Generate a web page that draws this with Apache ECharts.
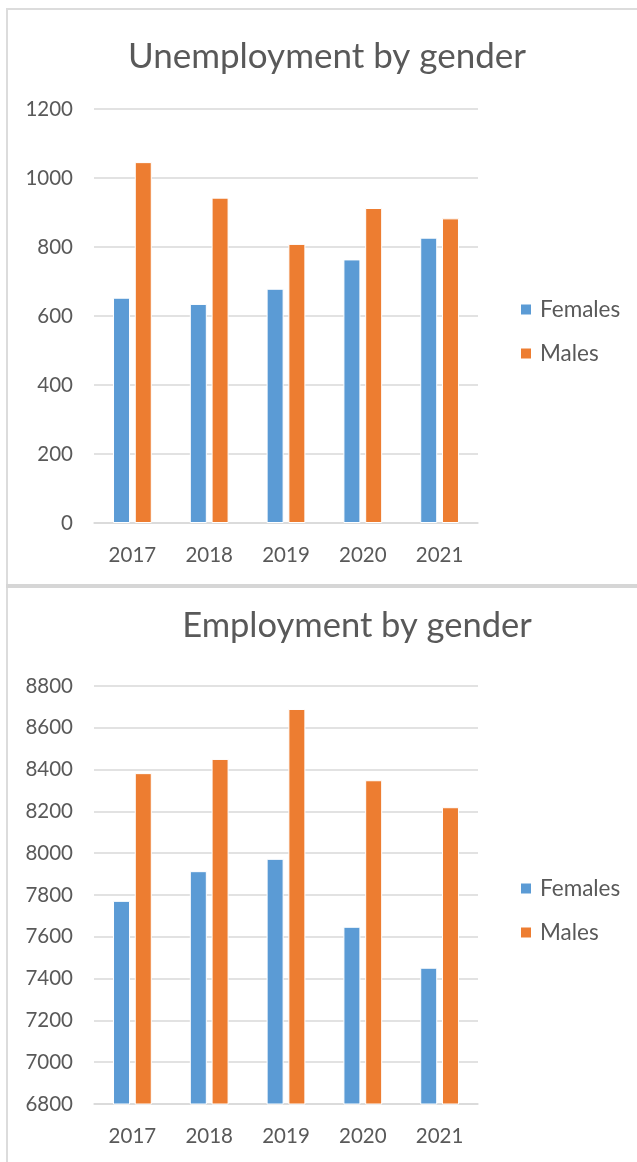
<!DOCTYPE html>
<html>
<head>
<meta charset="utf-8">
<script src="https://cdn.jsdelivr.net/npm/echarts@6/dist/echarts.min.js"></script>
<style>
html,body{margin:0;padding:0;background:#fff;}
#chart{width:637px;height:1162px;}
</style>
</head>
<body>
<div id="chart"></div>
<script>
const years = ['2017', '2018', '2019', '2020', '2021'];
const unempFemales = [653, 635, 679, 764, 827];
const unempMales = [1046, 943, 809, 913, 883];
const empFemales = [7772, 7914, 7973, 7648, 7452];
const empMales = [8383, 8451, 8690, 8349, 8220];
const seriesNames = ['Females', 'Males'];
const titles = ['Unemployment by gender', 'Employment by gender'];

const FONT = 'Lato, "Open Sans", sans-serif';
const TXT = '#595959';
const GRID = '#d9d9d9';
const BLUE = '#5b9bd5';
const ORANGE = '#ed7d31';

const chart = echarts.init(document.getElementById('chart'), null, {renderer: 'canvas'});

function xAxis(gi) {
  return {
    type: 'category', gridIndex: gi, data: years,
    axisLine: {show: true, lineStyle: {color: GRID, width: 1.5}},
    axisTick: {show: false},
    axisLabel: {color: TXT, fontFamily: FONT, fontSize: 20.5, margin: 22}
  };
}
function yAxis(gi, min, max) {
  return {
    type: 'value', gridIndex: gi, min: min, max: max, interval: 200,
    axisLine: {show: false}, axisTick: {show: false},
    splitLine: {lineStyle: {color: GRID, width: 1.5}},
    axisLabel: {color: TXT, fontFamily: FONT, fontSize: 20.5, margin: 21,
                formatter: function (v) { return String(v); }}
  };
}
function bar(name, data, gi, color) {
  return {
    name: name, type: 'bar', xAxisIndex: gi, yAxisIndex: gi, data: data,
    barWidth: 17, barGap: '28%',
    itemStyle: {color: color, borderColor: '#ffffff', borderWidth: 1},
    emphasis: {disabled: true}
  };
}
function legend(top) {
  return {
    orient: 'vertical', left: 519, top: top, padding: 0, data: seriesNames,
    icon: 'rect', itemWidth: 12, itemHeight: 12, itemGap: 21,
    textStyle: {color: TXT, fontFamily: FONT, fontSize: 22.5, padding: [0, 0, 0, 3]}
  };
}

const option = {
  animation: false,
  backgroundColor: '#ffffff',
  title: [
    {text: titles[0], left: 322, top: 52, textAlign: 'center', textVerticalAlign: 'middle',
     textStyle: {color: TXT, fontFamily: FONT, fontSize: 35, fontWeight: 'normal'}},
    {text: titles[1], left: 352, top: 621, textAlign: 'center', textVerticalAlign: 'middle',
     textStyle: {color: TXT, fontFamily: FONT, fontSize: 34.5, fontWeight: 'normal'}}
  ],
  legend: [legend(298), legend(877)],
  grid: [
    {left: 94, top: 109, width: 384, height: 414, containLabel: false},
    {left: 94, top: 686, width: 384, height: 418, containLabel: false}
  ],
  xAxis: [xAxis(0), xAxis(1)],
  yAxis: [yAxis(0, 0, 1200), yAxis(1, 6800, 8800)],
  series: [
    bar(seriesNames[0], unempFemales, 0, BLUE),
    bar(seriesNames[1], unempMales, 0, ORANGE),
    bar(seriesNames[0], empFemales, 1, BLUE),
    bar(seriesNames[1], empMales, 1, ORANGE)
  ],
  graphic: [
    {type: 'rect', shape: {x: 6, y: 8, width: 631, height: 2}, style: {fill: '#dcdcdc'}, silent: true},
    {type: 'rect', shape: {x: 6, y: 8, width: 2, height: 1154}, style: {fill: '#dcdcdc'}, silent: true},
    {type: 'rect', shape: {x: 6, y: 584, width: 631, height: 4}, style: {fill: '#d6d6d6'}, silent: true}
  ]
};
chart.setOption(option);
</script>
</body>
</html>
